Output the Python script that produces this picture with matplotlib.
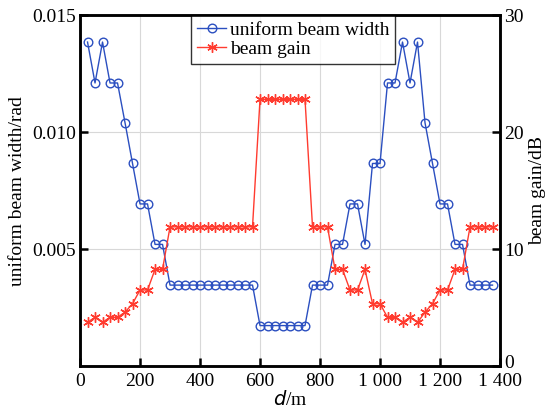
import numpy as np
import matplotlib.pyplot as plt
from matplotlib.ticker import FuncFormatter
from matplotlib.transforms import ScaledTranslation

plt.rcParams["font.family"] = ["Liberation Serif", "DejaVu Serif"]

# distance along the track, m
d = [25, 50, 75, 100, 125, 150, 175, 200, 225, 250, 275,
     300, 325, 350, 375, 400, 425, 450, 475, 500, 525, 550, 575,
     600, 625, 650, 675, 700, 725, 750,
     775, 800, 825, 850, 875, 900, 925, 950, 975, 1000,
     1025, 1050, 1075, 1100, 1125, 1150, 1175, 1200, 1225, 1250, 1275,
     1300, 1325, 1350, 1375]

# uniform beam width, rad
width = [0.01385, 0.0121, 0.01385, 0.0121, 0.0121, 0.0104, 0.00866, 0.00693, 0.00693, 0.0052, 0.0052,
         0.00346, 0.00346, 0.00346, 0.00346, 0.00346, 0.00346, 0.00346, 0.00346, 0.00346, 0.00346, 0.00346, 0.00346,
         0.00173, 0.00173, 0.00173, 0.00173, 0.00173, 0.00173, 0.00173,
         0.00346, 0.00346, 0.00346, 0.0052, 0.0052, 0.00693, 0.00693, 0.0052, 0.00866, 0.00866,
         0.0121, 0.0121, 0.01385, 0.0121, 0.01385, 0.0104, 0.00866, 0.00693, 0.00693, 0.0052, 0.0052,
         0.00346, 0.00346, 0.00346, 0.00346]

# beam gain, dB
gain = [3.73, 4.16, 3.73, 4.16, 4.16, 4.6, 5.33, 6.5, 6.5, 8.26, 8.26,
        11.9, 11.9, 11.9, 11.9, 11.9, 11.9, 11.9, 11.9, 11.9, 11.9, 11.9, 11.9,
        22.8, 22.8, 22.8, 22.8, 22.8, 22.8, 22.8,
        11.9, 11.9, 11.9, 8.26, 8.26, 6.5, 6.5, 8.26, 5.33, 5.33,
        4.16, 4.16, 3.73, 4.16, 3.73, 4.6, 5.33, 6.5, 6.5, 8.26, 8.26,
        11.9, 11.9, 11.9, 11.9]

x_ticks = [0, 200, 400, 600, 800, 1000, 1200, 1400]
blue = "#2b4fc0"
red = "#ff3b2f"

fig = plt.figure(figsize=(5.5, 4.09), dpi=100)
ax = fig.add_axes([0.1455, 0.105, 0.7636, 0.858])
ax2 = ax.twinx()

l1, = ax.plot(d, width, color=blue, lw=1.0, marker="o", ms=6.2,
              mfc="none", mec=blue, mew=1.0, label="uniform beam width")
# asterisk marker: six spokes
l2, = ax2.plot(d, gain, color=red, lw=1.0, marker=(6, 2, 0), ms=7.5,
               mfc=red, mec=red, mew=1.0, label="beam gain")

ax.set_xlim(0, 1400)
ax.set_ylim(0, 0.015)
ax2.set_ylim(0, 30)
ax.set_xticks(x_ticks)
ax.set_yticks([0.005, 0.010, 0.015])
ax2.set_yticks([0, 10, 20, 30])
ax.xaxis.set_major_formatter(FuncFormatter(lambda v, p: f"{int(v):,}".replace(",", " ")))
ax.yaxis.set_major_formatter(FuncFormatter(lambda v, p: f"{v:.3f}"))

ax.grid(True, color="#d8d8d8", lw=0.8)
ax.set_axisbelow(True)

for a in (ax, ax2):
    for s in a.spines.values():
        s.set_linewidth(1.8)
    a.tick_params(direction="in", width=1.8, length=6, labelsize=14, pad=3)
ax.tick_params(axis="x", pad=5)

# lift the right-hand "0" a little so it clears "1 400"
zero = ax2.yaxis.get_major_ticks()[0].label2
zero.set_transform(zero.get_transform() + ScaledTranslation(0, 3 / 72, fig.dpi_scale_trans))

ax.set_xlabel("$d$/m", fontsize=14, labelpad=0)
ax.set_ylabel("uniform beam width/rad", fontsize=14, labelpad=4)
ax2.set_ylabel("beam gain/dB", fontsize=14, labelpad=4)

leg = ax.legend(handles=[l1, l2], loc="upper center", bbox_to_anchor=(0.508, 1.0),
                fontsize=14, frameon=True, fancybox=False, edgecolor="black",
                handlelength=1.5, handletextpad=0.2, borderpad=0.3,
                labelspacing=0.1, borderaxespad=0.0)
leg.get_frame().set_linewidth(1.0)

fig.savefig("out.png", dpi=100)
